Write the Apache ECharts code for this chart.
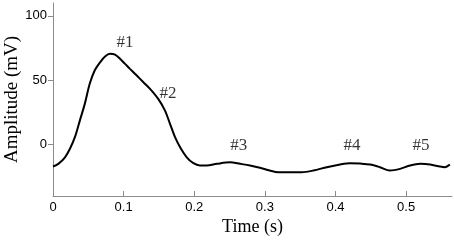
<!DOCTYPE html>
<html>
<head>
<meta charset="utf-8">
<script src="https://cdn.jsdelivr.net/npm/echarts@6/dist/echarts.min.js"></script>
<style>
  html, body { margin: 0; padding: 0; background: #fff; }
  #chart { width: 454px; height: 241px; }
</style>
</head>
<body>
<div id="chart"></div>
<script>
// waveform: time (s) / amplitude (mV)
var times = [0, 0.0075, 0.017, 0.024, 0.031, 0.038, 0.045, 0.052, 0.059, 0.0666, 0.0737, 0.0807,
    0.0878, 0.0949, 0.102, 0.109, 0.1186, 0.128, 0.1374, 0.149, 0.1586, 0.1657, 0.1728, 0.18,
    0.1894, 0.1988, 0.208, 0.2177, 0.232, 0.2507, 0.265, 0.279, 0.293, 0.307, 0.319, 0.3357,
    0.352, 0.3687, 0.3877, 0.4065, 0.4207, 0.435, 0.449, 0.463, 0.477, 0.4915, 0.5057, 0.52,
    0.534, 0.548, 0.555, 0.562];
var amps = [-17.1, -15.0, -9.9, -3.3, 5.7, 18.6, 31.6, 47.2, 57.5, 63.9, 68.4, 70.5,
    69.9, 66.6, 62.7, 58.8, 53.6, 48.4, 43.3, 35.5, 26.4, 16.1, 5.7, -2.1,
    -9.9, -14.5, -16.3, -16.3, -15.0, -13.8, -15.0, -16.3, -18.1, -20.2, -21.5, -21.5,
    -21.5, -20.2, -17.6, -15.5, -14.5, -14.8, -15.5, -17.6, -20.2, -18.9, -16.3, -15.0,
    -15.5, -17.1, -17.6, -15.5];

// peak markers
var peakNames = ['#1', '#2', '#3', '#4', '#5'];
var peakTimes = [0.102, 0.163, 0.263, 0.4235, 0.521];
var peakAmps = [79, 39.6, -0.8, -0.8, -0.8];

var xTicks = [0, 0.1, 0.2, 0.3, 0.4, 0.5];
var yTicks = [0, 50, 100];

var chart = echarts.init(document.getElementById('chart'));

var line = [];
for (var i = 0; i < times.length; i++) {
    line.push([times[i], amps[i]]);
}
var peaks = [];
for (var j = 0; j < peakNames.length; j++) {
    peaks.push({name: peakNames[j], value: [peakTimes[j], peakAmps[j]]});
}

var axisGray = '#8c8c8c';
var serif = 'Liberation Serif';

var option = {
    animation: false,
    backgroundColor: '#fff',
    grid: {left: 53, right: 2, top: 3, bottom: 45, containLabel: false, outerBoundsMode: 'none'},
    xAxis: {
        type: 'value',
        min: 0,
        max: 0.565,
        name: 'Time (s)',
        nameLocation: 'middle',
        nameGap: 22,
        nameMoveOverlap: false,
        nameTextStyle: {fontFamily: serif, fontSize: 18, color: '#000'},
        axisLine: {onZero: false, lineStyle: {color: axisGray, width: 1}},
        axisTick: {inside: true, length: 5, customValues: xTicks, lineStyle: {color: axisGray}},
        axisLabel: {
            customValues: xTicks,
            margin: 5,
            fontFamily: 'Liberation Sans',
            fontSize: 13,
            color: '#000',
            formatter: function (v) { return String(+v.toFixed(1)); }
        },
        splitLine: {show: false}
    },
    yAxis: {
        type: 'value',
        min: -40,
        max: 110,
        name: 'Amplitude (mV)',
        nameLocation: 'middle',
        nameGap: 31,
        nameMoveOverlap: false,
        nameTextStyle: {fontFamily: serif, fontSize: 19, color: '#000'},
        axisLine: {show: true, onZero: false, lineStyle: {color: axisGray, width: 1}},
        axisTick: {show: true, length: 5, customValues: yTicks, lineStyle: {color: axisGray}},
        axisLabel: {
            customValues: yTicks,
            margin: 6,
            fontFamily: 'Liberation Sans',
            fontSize: 13,
            color: '#000'
        },
        splitLine: {show: false}
    },
    series: [
        {
            type: 'line',
            data: line,
            smooth: 0.3,
            showSymbol: false,
            lineStyle: {color: '#000', width: 2}
        },
        {
            type: 'scatter',
            data: peaks,
            symbolSize: 1,
            itemStyle: {color: 'rgba(0,0,0,0)'},
            label: {
                show: true,
                position: 'inside',
                formatter: '{b}',
                fontFamily: serif,
                fontWeight: 'normal',
                fontSize: 17,
                color: '#000',
                textBorderWidth: 0
            }
        }
    ]
};

chart.setOption(option);
</script>
</body>
</html>
